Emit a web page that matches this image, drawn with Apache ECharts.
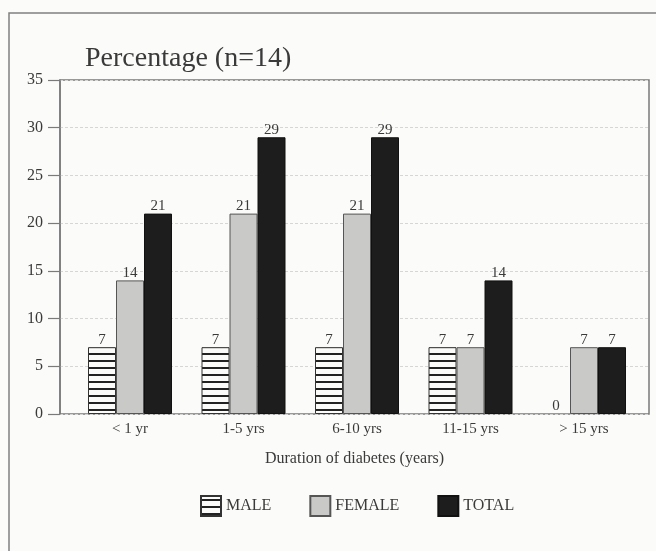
<!DOCTYPE html>
<html>
<head>
<meta charset="utf-8">
<script src="https://cdn.jsdelivr.net/npm/echarts@6/dist/echarts.min.js"></script>
<style>
html,body{margin:0;padding:0;background:#fbfbf9;}
#chart{width:656px;height:551px;}
</style>
</head>
<body>
<div id="chart"></div>
<script>
var categories = ['< 1 yr', '1-5 yrs', '6-10 yrs', '11-15 yrs', '> 15 yrs'];
var male = [7, 7, 7, 7, 0];
var female = [14, 21, 21, 7, 7];
var total = [21, 29, 29, 14, 7];
var seriesNames = ['MALE', 'FEMALE', 'TOTAL'];
var yTicks = [0, 5, 10, 15, 20, 25, 30, 35];

var FONT = '"Liberation Serif", "DejaVu Serif", serif';
var TXT = '#3a3a3a';

function stripePattern() {
  var c = document.createElement('canvas');
  c.width = 8; c.height = 7;
  var ctx = c.getContext('2d');
  ctx.fillStyle = '#fbfbf9';
  ctx.fillRect(0, 0, 8, 7);
  ctx.fillStyle = '#222';
  ctx.fillRect(0, 3, 8, 2);
  return c;
}
var stripes = { image: stripePattern(), repeat: 'repeat' };

function toItems(arr) {
  return arr.map(function (v) {
    return v === 0 ? { value: v, itemStyle: { borderWidth: 0 } } : v;
  });
}

var chart = echarts.init(document.getElementById('chart'), null, { renderer: 'canvas' });

var labelStyle = {
  show: true, position: 'top', distance: 0,
  fontFamily: FONT, fontSize: 15, color: TXT
};

var option = {
  backgroundColor: '#fbfbf9',
  animation: false,
  title: {
    text: 'Percentage (n=14)',
    left: 80, top: 40,
    textStyle: { fontFamily: FONT, fontSize: 28, fontWeight: 'normal', color: TXT }
  },
  graphic: [{
    type: 'rect', silent: true,
    shape: { x: 9, y: 13, width: 720, height: 620 },
    style: { fill: null, stroke: '#808080', lineWidth: 1.5 }
  }],
  legend: {
    data: seriesNames,
    left: 195, top: 490,
    itemWidth: 20, itemHeight: 20, itemGap: 38,
    icon: 'rect',
    textStyle: { fontFamily: FONT, fontSize: 16, color: TXT }
  },
  grid: [
    { left: 60, top: 80, width: 589, height: 334, show: true, borderColor: '#7a7a7a', borderWidth: 1.5, backgroundColor: 'transparent' },
    { left: 73.25, top: 80, width: 567.5, height: 334 }
  ],
  xAxis: [
    {
      gridIndex: 0, type: 'value', min: 0, max: 1,
      axisLine: { show: false }, axisTick: { show: false },
      axisLabel: { show: false }, splitLine: { show: false },
      name: 'Duration of diabetes (years)', nameLocation: 'middle', nameGap: 37,
      nameTextStyle: { fontFamily: FONT, fontSize: 16, color: TXT }
    },
    {
      gridIndex: 1, type: 'category', data: categories,
      axisLine: { show: false }, axisTick: { show: false },
      axisLabel: { fontFamily: FONT, fontSize: 15, color: TXT, margin: 8 }
    }
  ],
  yAxis: [
    {
      gridIndex: 0, type: 'value', min: yTicks[0], max: yTicks[yTicks.length - 1], interval: 5,
      axisLine: { show: true, lineStyle: { color: '#7a7a7a', width: 1.5 } },
      axisTick: { show: true, length: 12, lineStyle: { color: '#7a7a7a', width: 1.2 } },
      axisLabel: { fontFamily: FONT, fontSize: 16, color: TXT, margin: 17 },
      splitLine: { show: true, lineStyle: { color: '#d6d6d6', type: [3, 2], width: 1 } }
    },
    {
      gridIndex: 1, type: 'value', min: yTicks[0], max: yTicks[yTicks.length - 1],
      show: false, splitLine: { show: false }
    }
  ],
  series: [
    {
      name: seriesNames[0], type: 'bar', xAxisIndex: 1, yAxisIndex: 1,
      data: toItems(male), barWidth: 28, barGap: '0%',
      itemStyle: { color: stripes, borderColor: '#333', borderWidth: 1 },
      label: labelStyle
    },
    {
      name: seriesNames[1], type: 'bar', xAxisIndex: 1, yAxisIndex: 1,
      data: toItems(female), barWidth: 28, barGap: '0%',
      itemStyle: { color: '#c9c9c7', borderColor: '#555', borderWidth: 1 },
      label: labelStyle
    },
    {
      name: seriesNames[2], type: 'bar', xAxisIndex: 1, yAxisIndex: 1,
      data: toItems(total), barWidth: 28, barGap: '0%',
      itemStyle: { color: '#1d1d1d', borderColor: '#111', borderWidth: 1 },
      label: labelStyle
    }
  ]
};
chart.setOption(option);
</script>
</body>
</html>
